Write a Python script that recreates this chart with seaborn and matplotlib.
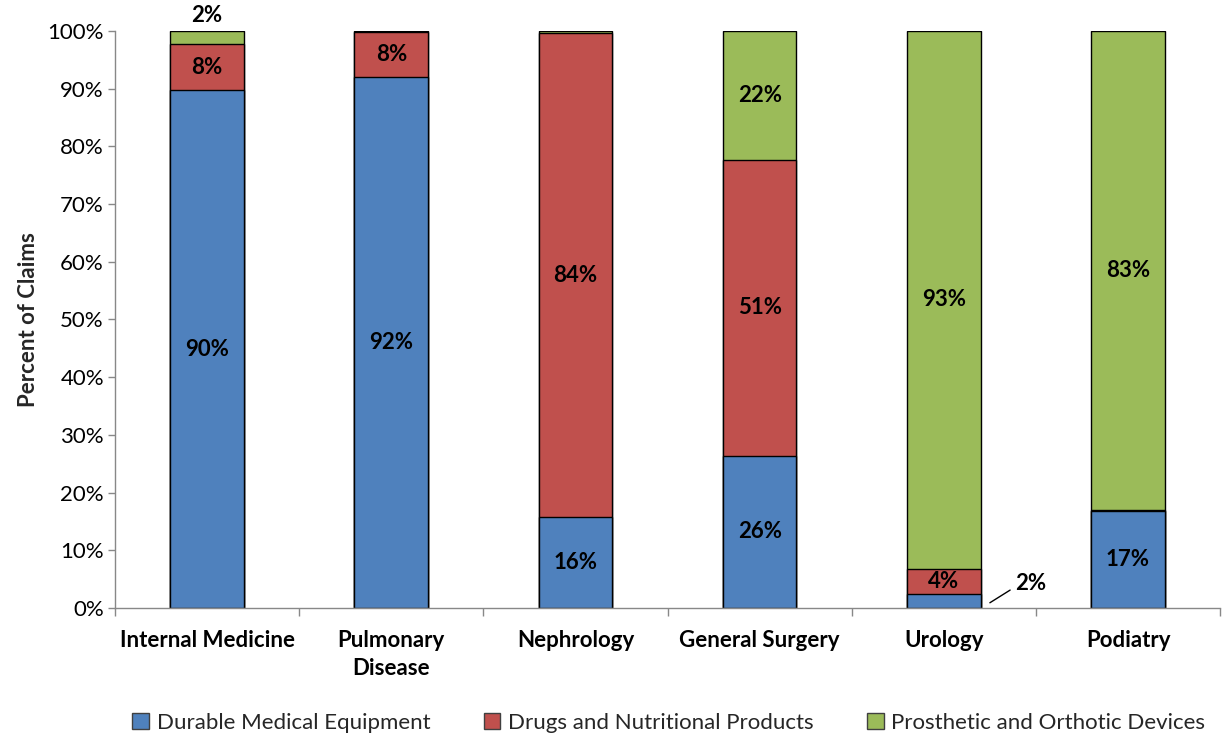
import numpy as np
import matplotlib
matplotlib.use("Agg")
import matplotlib.pyplot as plt
import seaborn as sns
from matplotlib.patches import Patch
from matplotlib.ticker import FixedLocator

# Share of claims by product type for each specialty (percent)
categories = ["Internal Medicine", "Pulmonary\nDisease", "Nephrology",
              "General Surgery", "Urology", "Podiatry"]
dme = [89.7, 92.0, 15.7, 26.4, 2.4, 16.8]
drugs = [8.0, 7.8, 84.0, 51.3, 4.4, 0.2]
prosthetic = [2.3, 0.2, 0.3, 22.3, 93.2, 83.0]
series_names = ["Durable Medical Equipment", "Drugs and Nutritional Products",
                "Prosthetic and Orthotic Devices"]
y_ticks = [0, 10, 20, 30, 40, 50, 60, 70, 80, 90, 100]

colors = ["#4F81BD", "#C0504D", "#9BBB59"]

sns.set_theme(style="white")
plt.rcParams["font.family"] = ["Lato", "DejaVu Sans"]

fig = plt.figure(figsize=(12.25, 7.38), dpi=100)
ax = fig.add_axes([0.0939, 0.1762, 0.9021, 0.7818])

dme_a = np.array(dme)
drugs_a = np.array(drugs)
pro_a = np.array(prosthetic)
layers = [dme_a, dme_a + drugs_a, dme_a + drugs_a + pro_a]

# Stack by drawing cumulative totals from the top layer down
for top, col in zip(layers[::-1], colors[::-1]):
    sns.barplot(x=categories, y=top, color=col, saturation=1, width=0.4,
                edgecolor="black", linewidth=1.0, ax=ax)

# Segment labels
label_size = 16
values = [dme_a, drugs_a, pro_a]
bottoms = [np.zeros(6), dme_a, dme_a + drugs_a]
for s, (vals, bots) in enumerate(zip(values, bottoms)):
    for i, (v, b) in enumerate(zip(vals, bots)):
        txt = f"{v:.0f}%"
        if v < 1:
            continue
        if s == 2 and i == 0:
            ax.text(i, 102.6, txt, ha="center", va="center", fontsize=label_size,
                    fontweight="bold", color="black", clip_on=False)
        elif s == 0 and i == 4:
            ax.plot([4.25, 4.36], [0.9, 3.1], color="black", lw=1.0, clip_on=False)
            ax.text(4.47, 4.2, txt, ha="center", va="center", fontsize=label_size,
                    fontweight="bold", color="black")
        else:
            ax.text(i, b + v / 2, txt, ha="center", va="center", fontsize=label_size,
                    fontweight="bold", color="black")

ax.set_xlim(-0.5, 5.5)
ax.set_ylim(0, 100)
ax.set_yticks(y_ticks)
ax.set_yticklabels([f"{t}%" for t in y_ticks], fontsize=16, color="black")
ax.set_ylabel("Percent of Claims", fontsize=16, fontweight="bold", labelpad=6)
ax.set_xlabel("")

ax.set_xticks(range(6))
ax.set_xticklabels(categories, fontsize=16, fontweight="bold", color="black",
                   linespacing=1.4)
ax.xaxis.set_minor_locator(FixedLocator(np.arange(-0.5, 6.0, 1.0)))
ax.tick_params(axis="x", which="major", length=0, pad=16)
ax.tick_params(axis="x", which="minor", length=6, width=1, color="#888888",
               direction="out", bottom=True)
ax.tick_params(axis="y", which="major", length=5, width=1, color="#888888",
               direction="out", left=True, pad=3)
for lbl in ax.get_xticklabels():
    lbl.set_verticalalignment("top")

for side in ["top", "right"]:
    ax.spines[side].set_visible(False)
for side in ["left", "bottom"]:
    ax.spines[side].set_color("#888888")
    ax.spines[side].set_linewidth(1.0)
ax.grid(False)

handles = [Patch(facecolor=c, edgecolor="#404040", linewidth=1.0) for c in colors]
fig.legend(handles, series_names, loc="lower center", bbox_to_anchor=(0.546, -0.02),
           ncol=3, frameon=False, fontsize=16, handlelength=0.75, handleheight=0.75,
           handletextpad=0.35, columnspacing=2.4)

fig.savefig("out.png", dpi=100)
